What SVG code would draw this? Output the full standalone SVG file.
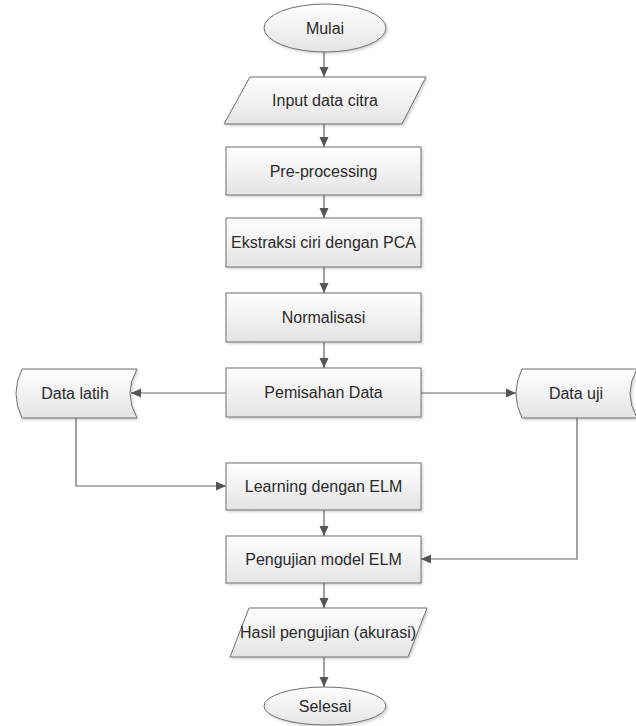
<svg xmlns="http://www.w3.org/2000/svg" width="636" height="726" viewBox="0 0 636 726">
<defs>
<linearGradient id="g" x1="0" y1="0" x2="0" y2="1">
<stop offset="0" stop-color="#ffffff"/>
<stop offset="1" stop-color="#e4e4e4"/>
</linearGradient>
<filter id="sh" x="-10%" y="-10%" width="130%" height="140%">
<feDropShadow dx="1.5" dy="1.5" stdDeviation="1.2" flood-color="#000" flood-opacity="0.18"/>
</filter>
<marker id="ah" viewBox="0 0 10 10" refX="10" refY="5" markerWidth="10" markerHeight="10" markerUnits="userSpaceOnUse" orient="auto">
<path d="M0,0.5 L10,5 L0,9.5 Z" fill="#555"/>
</marker>
<style>
.s{fill:url(#g);stroke:#6e6e6e;stroke-width:1;filter:url(#sh)}
.t{font-family:"Liberation Sans",Arial,sans-serif;font-size:16px;fill:#2a2a2a;text-anchor:middle;dominant-baseline:central}
.c{fill:none;stroke:#666;stroke-width:1.2;marker-end:url(#ah)}
</style>
</defs>
<rect width="636" height="726" fill="#fff"/>
<g id="connectors">
<line class="c" x1="324" y1="52" x2="324" y2="77"/>
<line class="c" x1="324" y1="124" x2="324" y2="147"/>
<line class="c" x1="324" y1="195" x2="324" y2="218"/>
<line class="c" x1="324" y1="267" x2="324" y2="293"/>
<line class="c" x1="324" y1="342" x2="324" y2="368"/>
<line class="c" x1="226" y1="393" x2="131" y2="393"/>
<line class="c" x1="421" y1="393" x2="516" y2="393"/>
<polyline class="c" points="76,418 76,486 226,486"/>
<polyline class="c" points="577,418 577,559 421,559"/>
<line class="c" x1="324" y1="510" x2="324" y2="536"/>
<line class="c" x1="324" y1="583" x2="324" y2="608"/>
<line class="c" x1="324" y1="657" x2="324" y2="687"/>
</g>
<g id="mulai">
<ellipse class="s" cx="325" cy="28" rx="61" ry="24"/>
<text class="t" x="325" y="28">Mulai</text>
</g>
<g id="input">
<polygon class="s" points="250,77 426,77 402,124 224,124"/>
<text class="t" x="325" y="100.5">Input data citra</text>
</g>
<g id="preprocessing">
<rect class="s" x="226" y="147" width="195" height="48"/>
<text class="t" x="323.5" y="171">Pre-processing</text>
</g>
<g id="ekstraksi">
<rect class="s" x="226" y="218" width="195" height="49"/>
<text class="t" x="323.5" y="242.5">Ekstraksi ciri dengan PCA</text>
</g>
<g id="normalisasi">
<rect class="s" x="226" y="293" width="195" height="49"/>
<text class="t" x="323.5" y="317.5">Normalisasi</text>
</g>
<g id="pemisahan">
<rect class="s" x="226" y="368" width="195" height="49"/>
<text class="t" x="323.5" y="392.5">Pemisahan Data</text>
</g>
<g id="datalatih">
<path class="s" d="M22,369 L137,369 Q123,393.5 137,418 L22,418 Q10,393.5 22,369 Z"/>
<text class="t" x="75" y="393">Data latih</text>
</g>
<g id="datauji">
<path class="s" d="M522,369 L637,369 Q623,393.5 637,418 L522,418 Q510,393.5 522,369 Z"/>
<text class="t" x="576" y="393">Data uji</text>
</g>
<g id="learning">
<rect class="s" x="226" y="463" width="195" height="47"/>
<text class="t" x="323.5" y="486.5">Learning dengan ELM</text>
</g>
<g id="pengujian">
<rect class="s" x="226" y="536" width="195" height="47"/>
<text class="t" x="323.5" y="559.5">Pengujian model ELM</text>
</g>
<g id="hasil">
<polygon class="s" points="249,608 427,608 408,657 230,657"/>
<text class="t" x="328" y="632.5">Hasil pengujian (akurasi)</text>
</g>
<g id="selesai">
<ellipse class="s" cx="325" cy="706" rx="61" ry="19"/>
<text class="t" x="325" y="706">Selesai</text>
</g>
</svg>
